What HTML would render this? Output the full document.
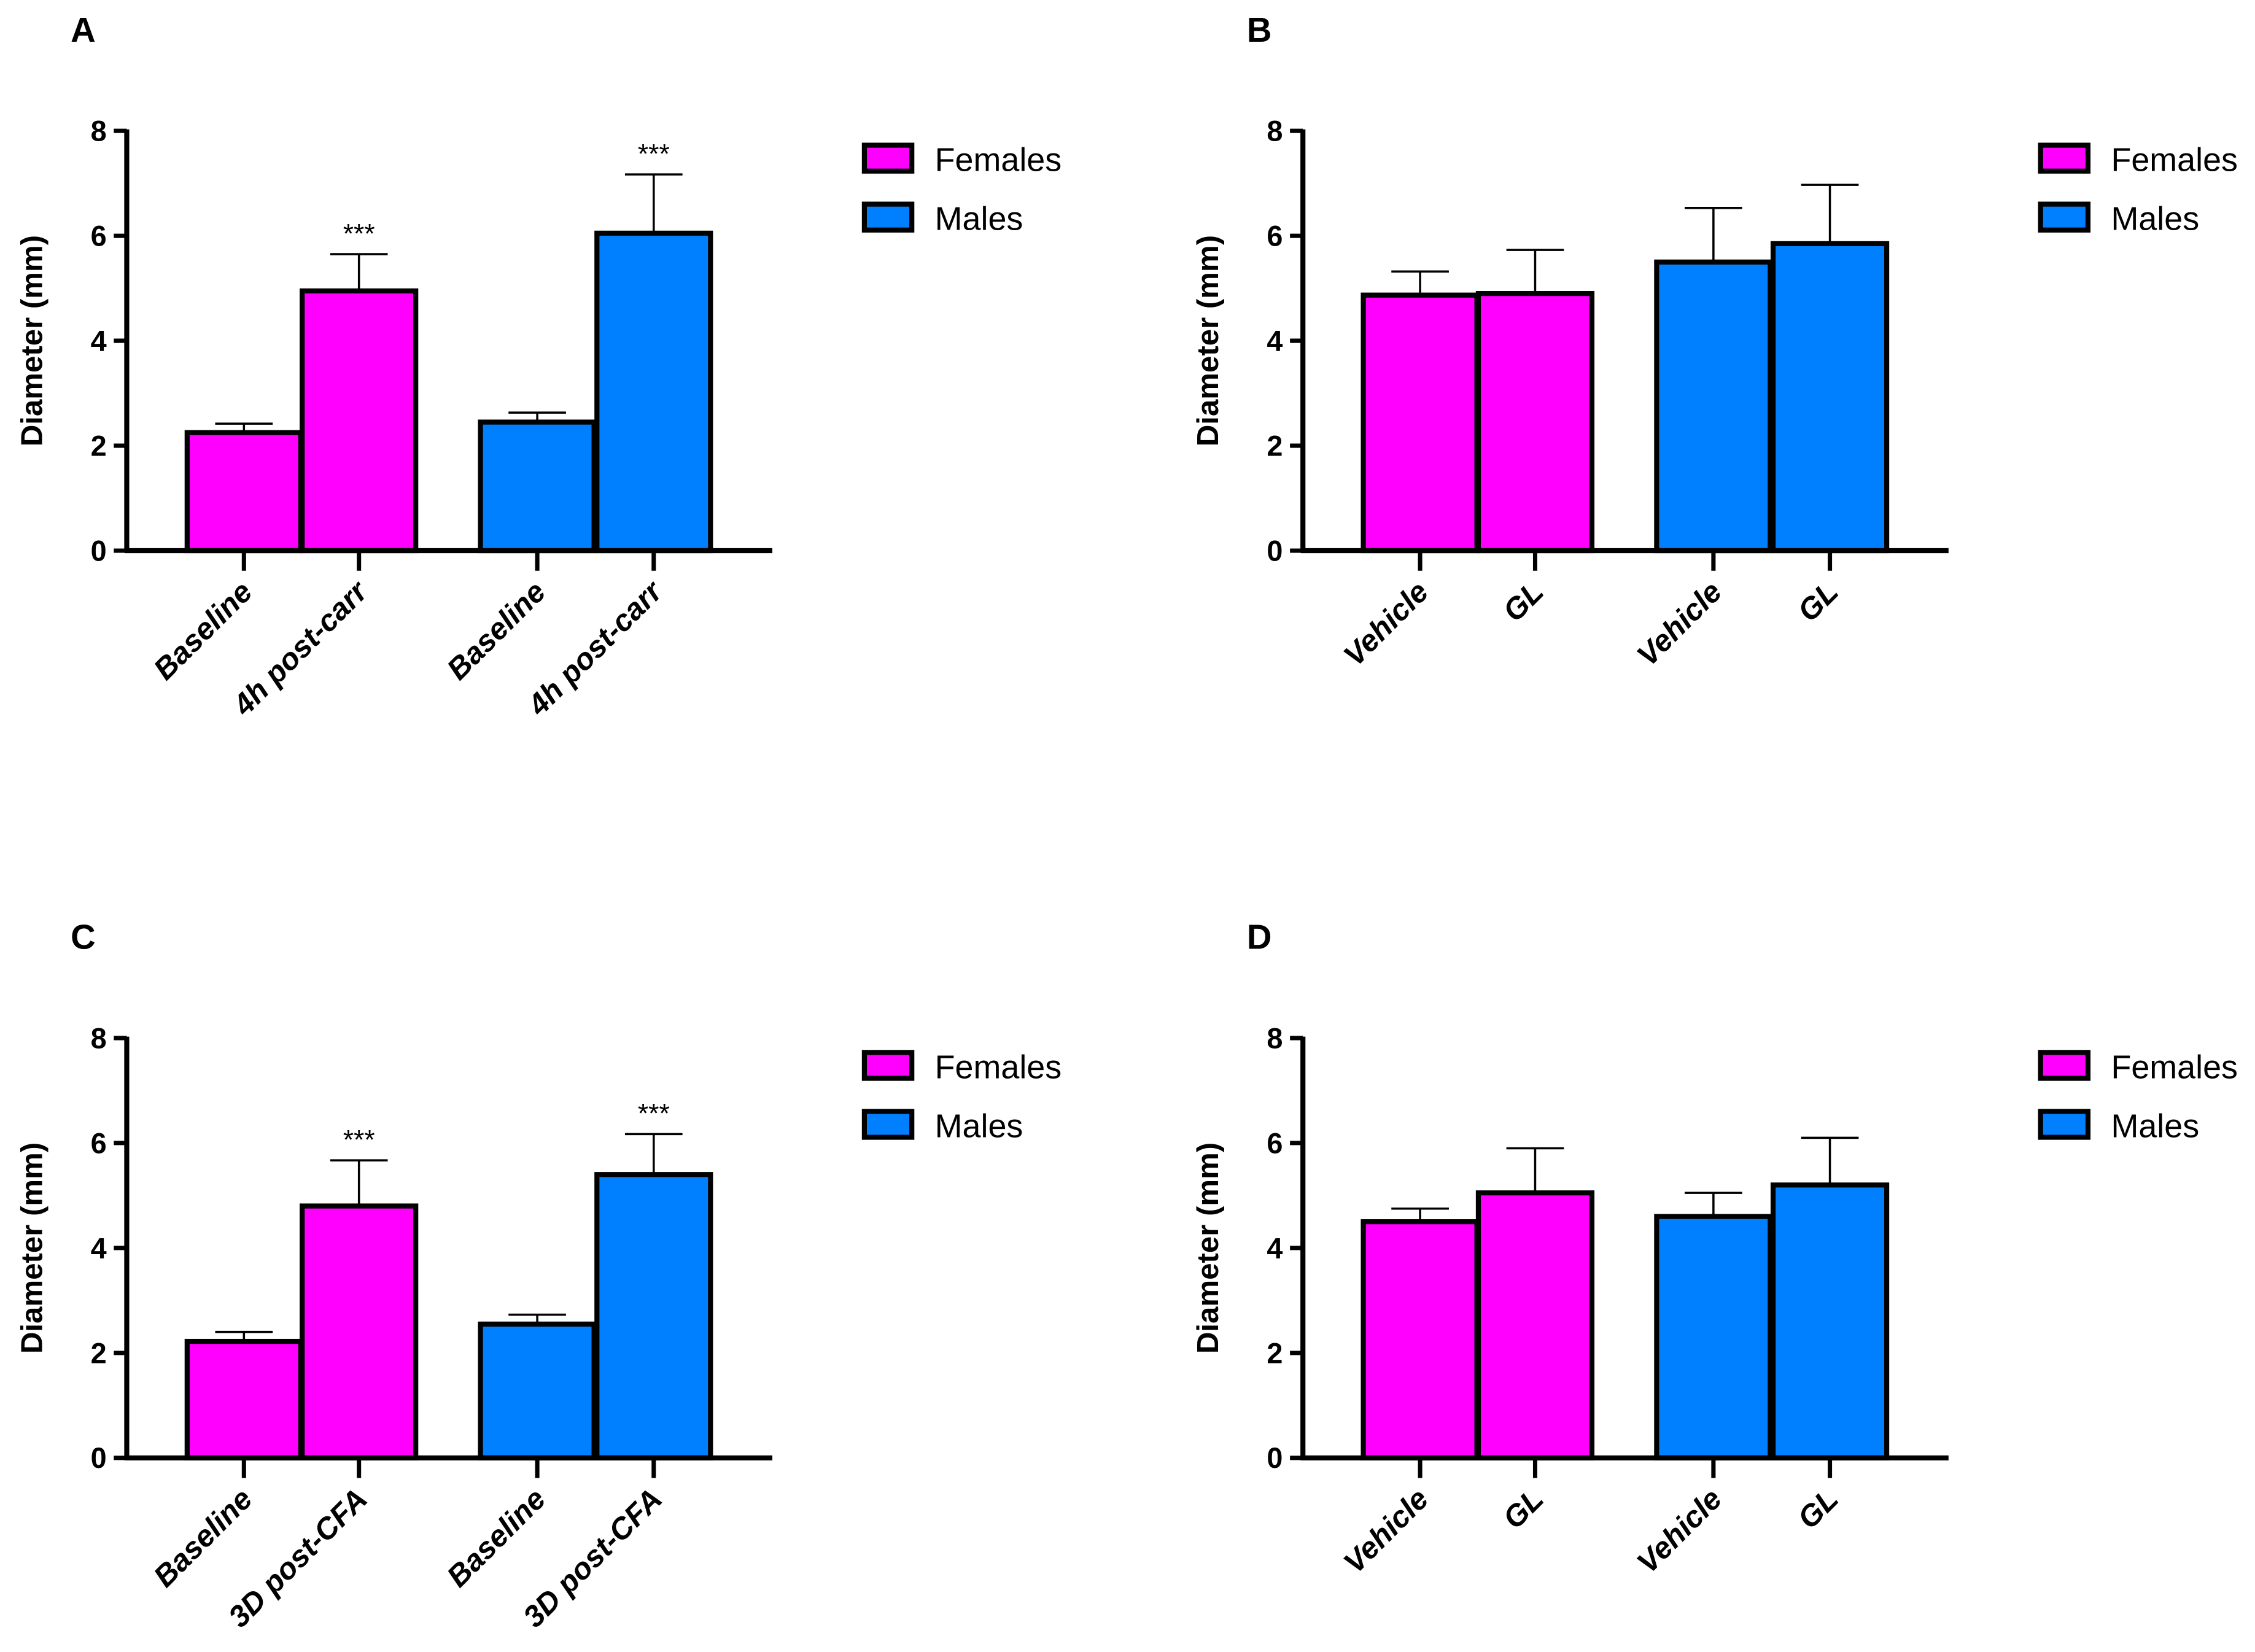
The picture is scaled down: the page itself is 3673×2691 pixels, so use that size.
<!DOCTYPE html>
<html><head><meta charset="utf-8">
<style>
html,body{margin:0;padding:0;background:#fff;}
svg{display:block;}
text{font-family:"Liberation Sans",Arial,sans-serif;}
</style></head>
<body>
<svg id="fig" width="3673" height="2691" viewBox="0 0 1568 1149" xmlns="http://www.w3.org/2000/svg"></svg>
<script>
const panelLetters = ["A","B","C","D"];
const catsA = ["Baseline","4h post-carr","Baseline","4h post-carr"];
const catsB = ["Vehicle","GL","Vehicle","GL"];
const catsC = ["Baseline","3D post-CFA","Baseline","3D post-CFA"];
const catsD = ["Vehicle","GL","Vehicle","GL"];
const meansA = [2.25, 4.95, 2.45, 6.05];
const errsA  = [0.17, 0.70, 0.18, 1.12];
const meansB = [4.87, 4.90, 5.50, 5.85];
const errsB  = [0.45, 0.83, 1.03, 1.12];
const meansC = [2.22, 4.80, 2.55, 5.40];
const errsC  = [0.18, 0.87, 0.18, 0.77];
const meansD = [4.50, 5.05, 4.60, 5.20];
const errsD  = [0.25, 0.85, 0.45, 0.90];
const starsA = ["","***","","***"];
const starsB = ["","","",""];
const starsC = ["","***","","***"];
const starsD = ["","","",""];
const yTicks = [0,2,4,6,8];
const legendLabels = ["Females","Males"];

const NS="http://www.w3.org/2000/svg";
const svg=document.getElementById('fig');
function mk(tag,attrs,parent){const e=document.createElementNS(NS,tag);for(const k in attrs)e.setAttribute(k,attrs[k]);(parent||svg).appendChild(e);return e;}
const colors=["#ff00ff","#ff00ff","#0080ff","#0080ff"];
const barOffsets=[42,122,246,327];
const barW=79;

function drawPanel(ox,oy,letter,cats,means,errs,stars){
  const g=mk('g',{});
  
  
  const ax=ox, y0=oy, y8=oy-292;
  const yS=v=>y0-(v/8)*(y0-y8);
  const t=mk('text',{x:ax-39,y:oy-354,'font-size':24,'font-weight':'bold'},g);t.textContent=letter;
  
  const yl=mk('text',{transform:`translate(${ax-59},${(y0+y8)/2}) rotate(-90)`,'text-anchor':'middle','font-size':21,'font-weight':'bold'},g);
  yl.textContent="Diameter (mm)";
  
  means.forEach((m,i)=>{
    const x=ax+barOffsets[i];
    const cx=x+barW/2;
    const eb=mk('line',{x1:cx,x2:cx,y1:yS(m),y2:yS(m+errs[i]),stroke:'#000','stroke-width':1.5},g);
    
    const cap=mk('line',{x1:cx-20,x2:cx+20,y1:yS(m+errs[i]),y2:yS(m+errs[i]),stroke:'#000','stroke-width':1.5},g);
    
    const r=mk('rect',{x:x,y:yS(m),width:barW,height:y0-yS(m),fill:colors[i],stroke:'#000','stroke-width':3.5},g);
    
    
    if(stars[i]){const s=mk('text',{x:cx,y:yS(m+errs[i])-8,'text-anchor':'middle','font-size':19},g);s.textContent=stars[i];
      }
    const tk=mk('line',{x1:cx,x2:cx,y1:y0,y2:y0+14,stroke:'#000','stroke-width':3},g);
    
    const xl=mk('text',{transform:`translate(${cx+7},${y0+30}) rotate(-45)`,'text-anchor':'end','font-size':21,'font-weight':'bold','font-style':'italic'},g);
    xl.textContent=cats[i];
    
  });
  const ya=mk('line',{x1:ax,x2:ax,y1:y8-1,y2:y0+1.5,stroke:'#000','stroke-width':3.5},g);
  
  const xa=mk('line',{x1:ax-1.5,x2:ax+449,y1:y0,y2:y0,stroke:'#000','stroke-width':3.5},g);
  
  yTicks.forEach(v=>{
    const l=mk('line',{x1:ax-9,x2:ax,y1:yS(v),y2:yS(v),stroke:'#000','stroke-width':3},g);
    
    const tx=mk('text',{x:ax-14,y:yS(v)+7,'text-anchor':'end','font-size':20,'font-weight':'bold'},g);
    tx.textContent=v;
    
  });
  legendLabels.forEach((lab,i)=>{
    const ly=oy-282+i*41;
    const sw=mk('rect',{x:ax+513,y:ly,width:33,height:18,fill:i?'#0080ff':'#ff00ff',stroke:'#000','stroke-width':3.5},g);
    
    const lt=mk('text',{x:ax+562,y:ly+18,'font-size':23},g);lt.textContent=lab;
    
  });
}
drawPanel(88,383,panelLetters[0],catsA,meansA,errsA,starsA);
drawPanel(906,383,panelLetters[1],catsB,meansB,errsB,starsB);
drawPanel(88,1014,panelLetters[2],catsC,meansC,errsC,starsC);
drawPanel(906,1014,panelLetters[3],catsD,meansD,errsD,starsD);
</script>
</body></html>
